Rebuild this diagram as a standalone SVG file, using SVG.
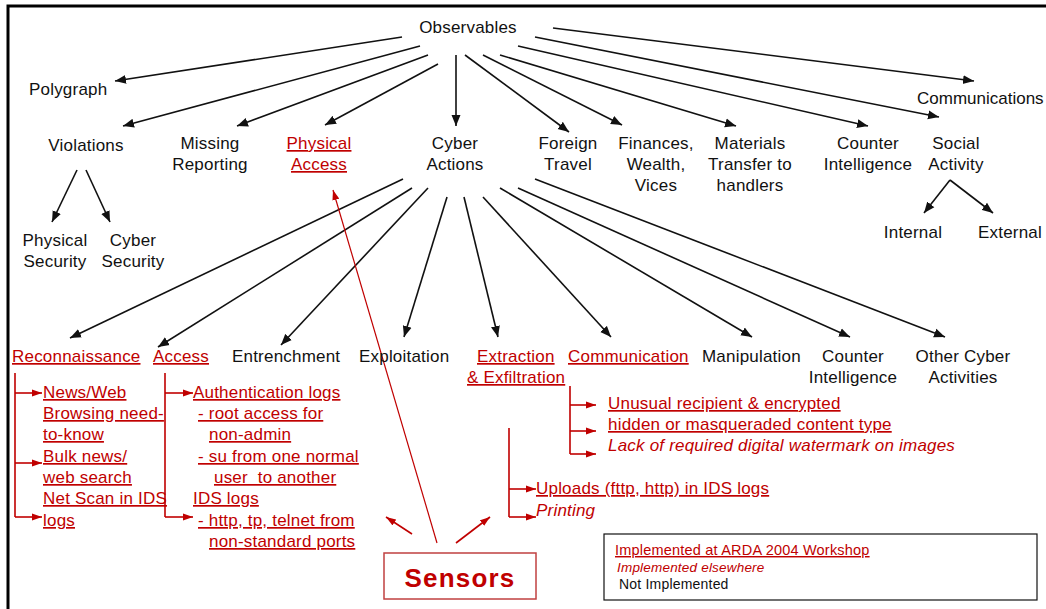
<svg xmlns="http://www.w3.org/2000/svg" width="1046" height="609" viewBox="0 0 1046 609">
<style>
text{font-family:"Liberation Sans",Arial,sans-serif;font-size:17px;fill:#111;letter-spacing:0.2px}
.m{text-anchor:middle}
.r{fill:#c00000}
.u{text-decoration:underline}
.i{font-style:italic}
.bl{stroke:#111;stroke-width:1.6;fill:none;marker-end:url(#ab)}
.rd{stroke:#c00000;stroke-width:1.6;fill:none}
.ra{stroke:#c00000;stroke-width:1.6;fill:none;marker-end:url(#ar)}
.lg{font-size:14.5px}
</style>
<defs>
<marker id="ab" markerUnits="userSpaceOnUse" markerWidth="12" markerHeight="10" refX="11" refY="4.5" orient="auto" viewBox="0 0 12 9">
<path d="M0,0 L11,4.5 L0,9 z" fill="#111"/>
</marker>
<marker id="ar" markerUnits="userSpaceOnUse" markerWidth="10" markerHeight="8" refX="10" refY="3.5" orient="auto" viewBox="0 0 10 7">
<path d="M0,0 L10,3.5 L0,7 z" fill="#c00000"/>
</marker>
</defs>
<rect width="1046" height="609" fill="#fff"/>
<path d="M8,609 V6 H1046" stroke="#000" stroke-width="3" fill="none"/>

<g id="connectors">
<line class="bl" x1="402" y1="37" x2="115" y2="81"/>
<line class="bl" x1="420" y1="46" x2="123" y2="126"/>
<line class="bl" x1="428" y1="55" x2="237" y2="126"/>
<line class="bl" x1="438" y1="64" x2="325" y2="125"/>
<line class="bl" x1="456" y1="55" x2="456" y2="126"/>
<line class="bl" x1="465" y1="55" x2="569" y2="132"/>
<line class="bl" x1="483" y1="55" x2="622" y2="125"/>
<line class="bl" x1="500" y1="55" x2="736" y2="126"/>
<line class="bl" x1="518" y1="46" x2="868" y2="126"/>
<line class="bl" x1="535" y1="37" x2="939" y2="117"/>
<line class="bl" x1="553" y1="28" x2="974" y2="81"/>
<line class="bl" x1="77" y1="170" x2="52" y2="222"/>
<line class="bl" x1="86" y1="170" x2="110" y2="222"/>
<line class="bl" x1="950" y1="180" x2="924" y2="213"/>
<line class="bl" x1="950" y1="180" x2="993" y2="213"/>
<line class="bl" x1="403" y1="179" x2="70" y2="338"/>
<line class="bl" x1="412" y1="188" x2="158" y2="347"/>
<line class="bl" x1="428" y1="188" x2="281" y2="345"/>
<line class="bl" x1="447" y1="197" x2="404" y2="337"/>
<line class="bl" x1="464" y1="197" x2="498" y2="337"/>
<line class="bl" x1="483" y1="197" x2="611" y2="337"/>
<line class="bl" x1="500" y1="188" x2="752" y2="337"/>
<line class="bl" x1="518" y1="188" x2="850" y2="337"/>
<line class="bl" x1="535" y1="179" x2="945" y2="337"/>
<path class="rd" d="M15,373 V517 M165,373 V517 M570,386 V454 M509,428 V517"/>
<line class="ra" x1="15" y1="393" x2="42" y2="393"/>
<line class="ra" x1="15" y1="463" x2="42" y2="463"/>
<line class="ra" x1="15" y1="517" x2="42" y2="517"/>
<line class="ra" x1="165" y1="393" x2="193" y2="393"/>
<line class="ra" x1="165" y1="517" x2="193" y2="517"/>
<line class="ra" x1="570" y1="405" x2="596" y2="405"/>
<line class="ra" x1="570" y1="431" x2="596" y2="431"/>
<line class="ra" x1="570" y1="454" x2="596" y2="454"/>
<line class="ra" x1="509" y1="489" x2="536" y2="489"/>
<line class="ra" x1="509" y1="517" x2="536" y2="517"/>
<line class="ra" style="stroke-width:1.2" x1="437" y1="543" x2="333" y2="190"/>
<line class="ra" x1="412" y1="534" x2="386" y2="517"/>
<line class="ra" x1="456" y1="543" x2="490" y2="517"/>
</g>

<g id="observables"><text class="m" x="468" y="33">Observables</text></g>
<g id="polygraph"><text x="29" y="95">Polygraph</text></g>
<g id="communications"><text x="917" y="104" style="letter-spacing:0">Communications</text></g>
<g id="violations"><text class="m" x="86" y="151">Violations</text></g>
<g id="missing-reporting"><text class="m" x="210" y="149">Missing</text><text class="m" x="210" y="170">Reporting</text></g>
<g id="physical-access"><text class="m r u" x="319" y="149">Physical</text><text class="m r u" x="319" y="170">Access</text></g>
<g id="cyber-actions"><text class="m" x="455" y="149">Cyber</text><text class="m" x="455" y="170">Actions</text></g>
<g id="foreign-travel"><text class="m" x="568" y="149">Foreign</text><text class="m" x="568" y="170">Travel</text></g>
<g id="finances"><text class="m" x="656" y="149">Finances,</text><text class="m" x="656" y="170">Wealth,</text><text class="m" x="656" y="191">Vices</text></g>
<g id="materials"><text class="m" x="750" y="149">Materials</text><text class="m" x="750" y="170">Transfer to</text><text class="m" x="750" y="191">handlers</text></g>
<g id="counter-intelligence"><text class="m" x="868" y="149">Counter</text><text class="m" x="868" y="170">Intelligence</text></g>
<g id="social-activity"><text class="m" x="956" y="149">Social</text><text class="m" x="956" y="170">Activity</text></g>
<g id="physical-security"><text class="m" x="55" y="246">Physical</text><text class="m" x="55" y="267">Security</text></g>
<g id="cyber-security"><text class="m" x="133" y="246">Cyber</text><text class="m" x="133" y="267">Security</text></g>
<g id="internal"><text class="m" x="913" y="238">Internal</text></g>
<g id="external"><text class="m" x="1010" y="238">External</text></g>

<g id="reconnaissance"><text class="r u" x="12" y="362">Reconnaissance</text></g>
<g id="access"><text class="r u" x="153" y="362">Access</text></g>
<g id="entrenchment"><text x="232" y="362">Entrenchment</text></g>
<g id="exploitation"><text x="359" y="362">Exploitation</text></g>
<g id="extraction"><text class="r u" x="477" y="362">Extraction</text><text class="r u" x="467" y="383">&amp; Exfiltration</text></g>
<g id="communication"><text class="r u" x="568" y="362">Communication</text></g>
<g id="manipulation"><text x="702" y="362">Manipulation</text></g>
<g id="cyber-counter-intelligence"><text class="m" x="853" y="362">Counter</text><text class="m" x="853" y="383">Intelligence</text></g>
<g id="other-cyber"><text class="m" x="963" y="362">Other Cyber</text><text class="m" x="963" y="383">Activities</text></g>

<g id="recon-sensors">
<text class="r u" x="43" y="398">News/Web</text>
<text class="r u" x="43" y="419">Browsing need-</text>
<text class="r u" x="43" y="440">to-know</text>
<text class="r u" x="43" y="462">Bulk news/</text>
<text class="r u" x="43" y="483">web search</text>
<text class="r u" x="43" y="504">Net Scan in IDS</text>
<text class="r u" x="43" y="526">logs</text>
</g>
<g id="access-sensors">
<text class="r u" x="193" y="398">Authentication logs</text>
<text class="r u" x="198" y="419">- root access for</text>
<text class="r u" x="209" y="440">non-admin</text>
<text class="r u" x="198" y="462">- su from one normal</text>
<text class="r u" x="214" y="483" xml:space="preserve">user  to another</text>
<text class="r u" x="193" y="504">IDS logs</text>
<text class="r u" x="198" y="526">- http, tp, telnet from</text>
<text class="r u" x="209" y="547">non-standard ports</text>
</g>
<g id="communication-sensors">
<text class="r u" x="608" y="409">Unusual recipient &amp; encrypted</text>
<text class="r u" x="608" y="430">hidden or masqueraded content type</text>
<text class="r i" x="608" y="451">Lack of required digital watermark on images</text>
</g>
<g id="extraction-sensors">
<text class="r u" x="536" y="494">Uploads (fttp, http) in IDS logs</text>
<text class="r i" x="536" y="516">Printing</text>
</g>

<g id="sensors">
<rect x="384" y="553" width="152" height="46" fill="#fff" stroke="#c04040" stroke-width="1.5"/>
<text class="m r" x="460" y="587" style="font-size:26px;font-weight:bold;letter-spacing:1.2px">Sensors</text>
</g>

<g id="legend">
<rect x="604" y="534" width="433" height="66" fill="#fff" stroke="#111" stroke-width="1.2"/>
<text class="r u lg" x="615" y="555">Implemented at ARDA 2004 Workshop</text>
<text class="r i lg" x="617" y="572" style="font-size:13.5px">Implemented elsewhere</text>
<text class="lg" x="619" y="589" style="font-size:14px">Not Implemented</text>
</g>
</svg>
